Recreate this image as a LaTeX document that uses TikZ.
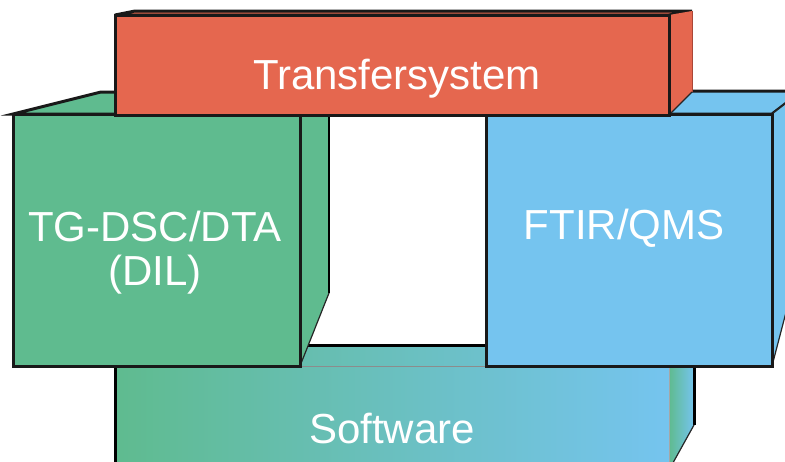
\documentclass[tikz,border=0pt]{standalone}
\usepackage{fontspec}
\setmainfont{Liberation Sans}
\usetikzlibrary{positioning}

\definecolor{tsred}{RGB}{229,103,79}
\definecolor{tsline}{RGB}{170,70,55}
\definecolor{dilgreen}{RGB}{95,187,143}
\definecolor{ftirblue}{RGB}{117,196,239}

\begin{document}
\begin{tikzpicture}[
  x=1pt, y=-1pt,
  face/.style={fill=#1, draw=black!90, line width=3pt, line join=miter},
  side/.style={fill=#1},
  thinedge/.style={draw=black!85, line width=1.2pt},
  swshade/.style={left color=dilgreen, right color=ftirblue},
  lbl/.style={text=white, font=\fontsize{42}{44}\selectfont,
    align=center, inner sep=0pt},
]
\useasboundingbox (0,0) rectangle (785,461);
\clip (0,0) rectangle (785,461);

% --- Software bar (behind the two boxes) ---
\shade[swshade] (140,345) -- (694,345) -- (669,366) -- (115,366) -- cycle;
\shade[swshade] (115,366) rectangle (669,475);
\shade[swshade] (669,366) -- (694,345) -- (694,425) -- (669,470) -- cycle;
\draw[line width=3pt] (140,345) -- (694,345);
\draw[line width=3pt] (115,366) -- (115,475);
\draw[line width=3pt] (694,345) -- (694,425);
\draw[thinedge] (694,425) -- (669,470);
\draw[draw=black!45, line width=0.8pt] (115,366) -- (669,366);
\draw[draw=black!35, line width=0.6pt] (669,366) -- (669,470);

% --- TG-DSC/DTA box ---
\draw[face=dilgreen] (13,114) -- (101,92) -- (329,92) -- (300,114) -- cycle;
\path[side=dilgreen] (300,114) -- (329,92) -- (329,293) -- (300,366) -- cycle;
\draw[line width=2.4pt] (329,92) -- (329,293);
\draw[thinedge] (329,293) -- (300,366);
\draw[face=dilgreen] (13,114) rectangle (300,366);

% --- FTIR/QMS box ---
\draw[face=ftirblue] (486,114) -- (520,91) -- (802,91) -- (772,114) -- cycle;
\path[side=ftirblue] (772,114) -- (802,91) -- (802,251) -- (772,366) -- cycle;
\draw[thinedge] (772,114) -- (802,91);
\draw[thinedge] (772,366) -- (802,251);
\draw[face=ftirblue] (486,114) rectangle (772,366);

% --- Transfersystem bar (in front) ---
\draw[face=tsred] (115,15) -- (135,11) -- (692,11) -- (669,15) -- cycle;
\path[side=tsred] (669,15) -- (692,11) -- (692,92) -- (669,115) -- cycle;
\draw[draw=tsline, line width=0.8pt] (669,15) -- (669,115);
\draw[draw=tsline, line width=0.8pt] (692,11) -- (692,92);
\draw[thinedge] (692,92) -- (669,115);
\draw[face=tsred] (115,15) rectangle (669,115);

% --- Labels ---
\node[lbl, anchor=base] (tstext) at (397,89) {Transfersystem};
\node[lbl] (dil) at (155,253) {TG-DSC/DTA\\(DIL)};
\node[lbl] (ftir) at (624,228) {FTIR/QMS};
\node[lbl, anchor=base] (sw) at (392,443) {Software};

\end{tikzpicture}
\end{document}
